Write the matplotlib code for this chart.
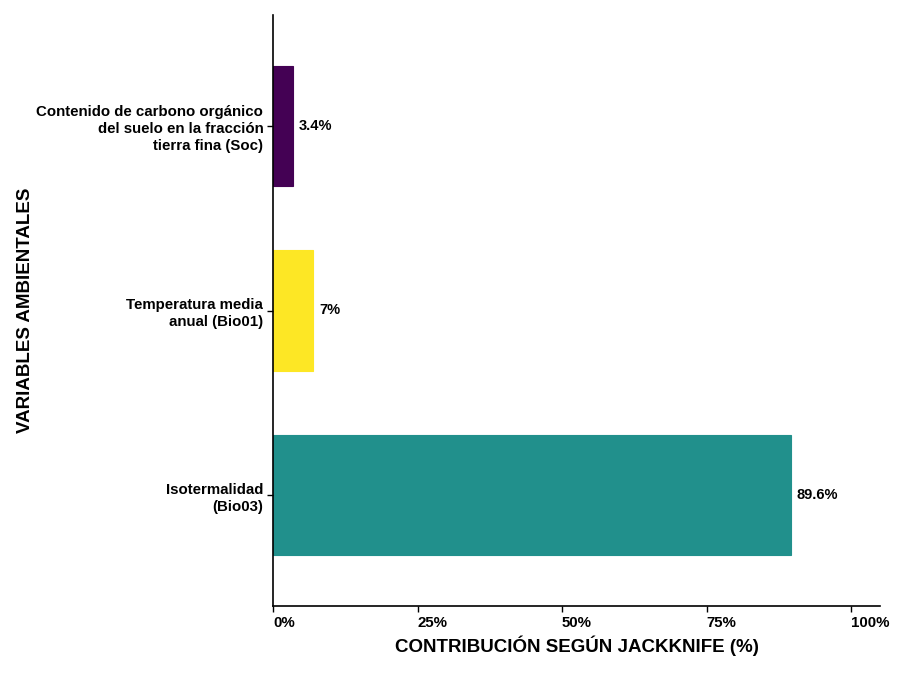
import matplotlib.pyplot as plt
from matplotlib.ticker import FuncFormatter

plt.rcParams["font.family"] = ["Liberation Sans", "DejaVu Sans"]
plt.rcParams["font.weight"] = "bold"

variables = [
    "Isotermalidad\n(Bio03)",
    "Temperatura media\nanual (Bio01)",
    "Contenido de carbono orgánico\ndel suelo en la fracción\ntierra fina (Soc)",
]
contribucion = [89.6, 7.0, 3.4]
etiquetas = ["89.6%", "7%", "3.4%"]
colores = ["#21908C", "#FDE725", "#440154"]
ticks_x = [0, 25, 50, 75, 100]

fig = plt.figure(figsize=(9, 6.75), dpi=100)
ax = fig.add_axes([273 / 900, 1 - 606 / 675, (880 - 273) / 900, (606 - 15) / 675])

pos = list(range(1, len(variables) + 1))
ax.barh(pos, contribucion, height=0.65, color=colores, edgecolor=colores, linewidth=0.8)

for p, v, t in zip(pos, contribucion, etiquetas):
    ax.annotate(t, (v, p), xytext=(4, 0), textcoords="offset points",
                ha="left", va="center", fontsize=10.5, fontweight="bold")

ax.set_xlim(0, 105)
ax.set_ylim(0.4, 3.6)
ax.set_yticks(pos)
ax.set_yticklabels(variables, fontsize=10.8, fontweight="bold", ha="right",
                   linespacing=1.3)
ax.set_xticks(ticks_x)
ax.xaxis.set_major_formatter(FuncFormatter(lambda x, _: f"{x:.0f}%"))
for lab in ax.get_xticklabels():
    lab.set_ha("left")
    lab.set_fontsize(10.8)
    lab.set_fontweight("bold")

ax.spines["top"].set_visible(False)
ax.spines["right"].set_visible(False)
ax.spines["left"].set_linewidth(1.2)
ax.spines["bottom"].set_linewidth(1.2)
ax.tick_params(axis="both", length=4, width=1, colors="black", pad=3)

ax.set_xlabel("CONTRIBUCIÓN SEGÚN JACKKNIFE (%)", fontsize=13.5, fontweight="bold", labelpad=4)
ax.set_ylabel("VARIABLES AMBIENTALES", fontsize=13.5, fontweight="bold")
ax.yaxis.set_label_coords(-0.393, 0.5)

fig.savefig("out.png", dpi=100)
